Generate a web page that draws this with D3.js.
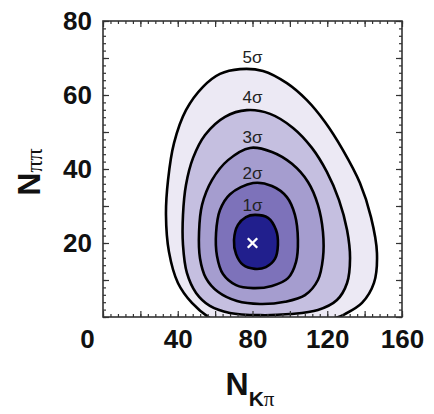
<!DOCTYPE html>
<html>
<head>
<meta charset="utf-8">
<script src="https://d3js.org/d3.v7.min.js"></script>
<style>
  body { margin: 0; background: #fff; }
  text { font-family: "Liberation Sans", Helvetica, Arial, sans-serif; }
</style>
</head>
<body>
<svg id="chart" width="434" height="414"></svg>
<script>
// ---- data (N_Kpi, N_pipi) ----
const xTickLabels = [0, 40, 80, 120, 160];
const yTickLabels = [20, 40, 60, 80];
const sigmaLabels = ["5σ", "4σ", "3σ", "2σ", "1σ"];
const sigmaLabelY = [70.3, 59.5, 48.6, 38.9, 30.3];
const bestFit = [80, 20];

const contour5 = [[73.3,67.0],[85.6,66.5],[98.4,63.2],[109.1,58.6],[118.8,52.7],[128.4,45.1],
  [137.5,36.2],[143.4,27.0],[146.6,17.3],[145.0,9.2],[138.6,3.8],[129.5,0.8],[121.5,-0.8],
  [105.4,-3.5],[84.0,-4.1],[65.3,-2.4],[57.2,-0.3],[47.6,3.8],[40.1,9.2],[35.3,17.6],
  [33.7,27.6],[34.8,37.0],[38.0,47.0],[44.4,55.9],[53.5,62.2],[62.6,65.7]];
const contour4 = [[77.0,55.9],[89.4,54.9],[101.7,51.1],[111.8,45.7],[119.8,39.2],[126.3,31.6],
  [130.6,23.5],[132.2,15.9],[130.6,9.2],[125.2,4.6],[115.0,1.9],[100.1,0.8],[84.0,0.5],
  [67.9,1.1],[57.2,3.0],[49.8,6.5],[44.9,11.9],[42.8,19.5],[42.8,27.6],[44.4,35.7],
  [48.2,43.0],[54.6,49.2],[65.3,54.1]];
const contour3 = [[78.7,45.7],[90.4,44.6],[101.1,41.4],[109.7,36.5],[115.0,30.3],[117.7,23.0],
  [117.7,15.9],[115.0,10.0],[108.1,5.9],[97.4,4.1],[84.0,3.5],[71.7,4.3],[61.5,6.8],
  [55.1,10.5],[51.9,15.9],[51.4,23.0],[53.0,30.3],[58.3,37.0],[66.9,42.4]];
const contour2 = [[80.3,36.2],[90.4,35.4],[98.4,32.4],[102.7,27.6],[104.3,20.8],[103.3,14.9],
  [99.0,10.5],[90.4,8.4],[80.3,7.8],[71.2,8.6],[64.2,11.6],[61.0,16.5],[60.5,22.7],
  [62.6,28.9],[68.0,33.2]];
const contour1 = [[81.3,27.6],[88.3,26.8],[92.6,23.5],[93.6,19.5],[92.0,15.7],[87.2,13.5],
  [81.3,13.0],[74.9,14.1],[71.2,17.0],[70.1,20.8],[72.2,24.9],[76.5,27.0]];

const contours = [contour5, contour4, contour3, contour2, contour1];
const fills = ["#ece9f4", "#c5bfe0", "#a59dcf", "#7d72ba", "#211f8d"];

const svg = d3.select("#chart");
const x = d3.scaleLinear().domain([0, 160]).range([103, 402]);
const y = d3.scaleLinear().domain([0, 80]).range([317, 21]);

svg.append("defs").append("clipPath").attr("id", "plot")
  .append("rect")
  .attr("x", x(0)).attr("y", y(80))
  .attr("width", x(160) - x(0)).attr("height", y(0) - y(80));

const line = d3.line()
  .x(d => x(d[0]))
  .y(d => y(d[1]))
  .curve(d3.curveCatmullRomClosed.alpha(0.5));

const plot = svg.append("g").attr("clip-path", "url(#plot)");

plot.selectAll("path.contour")
  .data(contours)
  .enter().append("path")
  .attr("class", "contour")
  .attr("d", line)
  .attr("fill", (d, i) => fills[i])
  .attr("stroke", "#000")
  .attr("stroke-width", 2.6);

// best fit marker
plot.append("path")
  .attr("d", d3.symbol(d3.symbolX).size(60)())
  .attr("transform", `translate(${x(bestFit[0])},${y(bestFit[1])})`)
  .attr("fill", "none")
  .attr("stroke", "#fff")
  .attr("stroke-width", 2.4);

// sigma labels
svg.selectAll("text.sig")
  .data(sigmaLabels)
  .enter().append("text")
  .attr("class", "sig")
  .attr("x", x(80))
  .attr("y", (d, i) => y(sigmaLabelY[i]))
  .attr("dy", "0.35em")
  .attr("text-anchor", "middle")
  .style("font-size", "17px")
  .attr("fill", "#222")
  .text(d => d);

// ticks on all four sides, pointing inward
function ticks(axisFn, scale, step, len, transform) {
  const dom = scale.domain();
  const g = svg.append("g")
    .attr("transform", transform)
    .call(axisFn(scale).tickValues(d3.range(dom[0], dom[1] + 0.01, step))
      .tickSize(-len).tickFormat(""));
  g.select(".domain").remove();
  g.selectAll("line").attr("stroke", "#333").attr("stroke-width", 1.2);
}
ticks(d3.axisBottom, x, 4, 3, `translate(0,${y(0)})`);
ticks(d3.axisBottom, x, 20, 6, `translate(0,${y(0)})`);
ticks(d3.axisTop, x, 4, 3, `translate(0,${y(80)})`);
ticks(d3.axisTop, x, 20, 6, `translate(0,${y(80)})`);
ticks(d3.axisLeft, y, 2, 3, `translate(${x(0)},0)`);
ticks(d3.axisLeft, y, 10, 6, `translate(${x(0)},0)`);
ticks(d3.axisRight, y, 2, 3, `translate(${x(160)},0)`);
ticks(d3.axisRight, y, 10, 6, `translate(${x(160)},0)`);

svg.append("rect")
  .attr("x", x(0)).attr("y", y(80))
  .attr("width", x(160) - x(0)).attr("height", y(0) - y(80))
  .attr("fill", "none").attr("stroke", "#333").attr("stroke-width", 1.6);

// tick labels
const xl = svg.append("g")
  .attr("transform", `translate(0,${y(0)})`)
  .call(d3.axisBottom(x).tickValues(xTickLabels).tickSize(0).tickPadding(13));
xl.select(".domain").remove();
xl.selectAll("text")
  .style("font-size", "26px").style("font-weight", "bold")
  .attr("fill", "#111")
  .attr("dx", d => d === 0 ? -16 : 0);

const yl = svg.append("g")
  .attr("transform", `translate(${x(0)},0)`)
  .call(d3.axisLeft(y).tickValues(yTickLabels).tickSize(0).tickPadding(11));
yl.select(".domain").remove();
yl.selectAll("text")
  .style("font-size", "26px").style("font-weight", "bold")
  .attr("fill", "#111");

// axis titles
const xt = svg.append("text")
  .attr("x", 250).attr("y", 395)
  .attr("text-anchor", "middle")
  .attr("fill", "#111");
xt.append("tspan").style("font-size", "32px").style("font-weight", "bold").text("N");
xt.append("tspan").attr("dy", 11).style("font-size", "21px").style("font-weight", "bold").text("K");
xt.append("tspan").style("font-size", "21px").style("font-family", "Liberation Serif, serif").text("π");

const yt = svg.append("text")
  .attr("transform", `translate(40,172) rotate(-90)`)
  .attr("text-anchor", "middle")
  .attr("fill", "#111");
yt.append("tspan").style("font-size", "32px").style("font-weight", "bold").text("N");
yt.append("tspan").attr("dy", 2).style("font-size", "24px").style("font-family", "Liberation Serif, serif").text("ππ");
</script>
</body>
</html>
